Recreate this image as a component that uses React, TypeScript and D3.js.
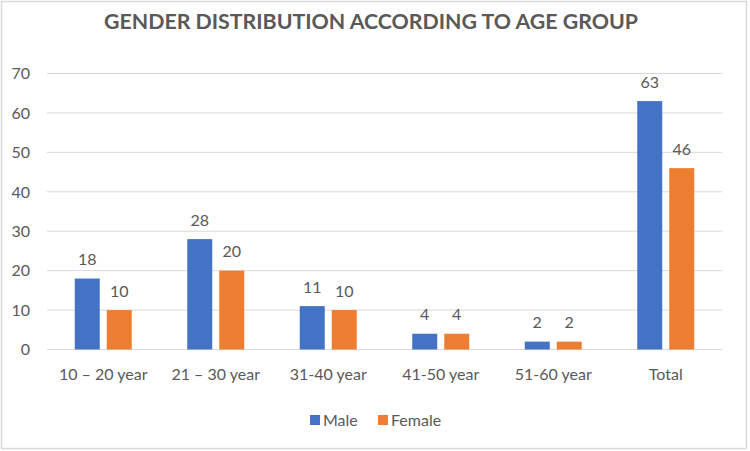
import { useEffect, useRef } from 'react';
import * as d3 from 'd3';

const categories = ['10 – 20 year', '21 – 30 year', '31-40 year', '41-50 year', '51-60 year', 'Total'];
const series = ['Male', 'Female'];
const maleValues = [18, 28, 11, 4, 2, 63];
const femaleValues = [10, 20, 10, 4, 2, 46];
const yTicks = [0, 10, 20, 30, 40, 50, 60, 70];

const WIDTH = 750;
const HEIGHT = 451;
const COLORS: Record<string, string> = { Male: '#4472C4', Female: '#ED7D31' };
const TEXT = '#595959';
const FONT = 'Lato, "Open Sans", sans-serif';

export default function App() {
  const svgRef = useRef<SVGSVGElement>(null);

  useEffect(() => {
    document.body.style.margin = '0';
    const svg = d3.select(svgRef.current);
    svg.selectAll('*').remove();

    const x = d3.scaleBand<string>().domain(categories).range([47, 722]).padding(0);
    const inner = d3
      .scaleBand<string>()
      .domain(series)
      .range([0, x.bandwidth()])
      .paddingInner(0.219)
      .paddingOuter(0.867);
    const y = d3.scaleLinear().domain([0, 70]).range([349.5, 73.5]);

    // Background and frame
    svg.append('rect').attr('width', WIDTH).attr('height', HEIGHT).attr('fill', '#ffffff');
    svg
      .append('rect')
      .attr('x', 1.5)
      .attr('y', 1.5)
      .attr('width', 745)
      .attr('height', 447)
      .attr('fill', 'none')
      .attr('stroke', '#d9d9d9')
      .attr('stroke-width', 1.5);

    // Title
    svg
      .append('text')
      .attr('x', 371)
      .attr('y', 29)
      .attr('text-anchor', 'middle')
      .attr('fill', TEXT)
      .attr('font-family', FONT)
      .attr('font-size', 21)
      .attr('font-weight', 700)
      .attr('textLength', 534)
      .attr('lengthAdjust', 'spacingAndGlyphs')
      .text('GENDER DISTRIBUTION ACCORDING TO AGE GROUP');

    // Gridlines and y tick labels
    yTicks.forEach((t) => {
      svg
        .append('line')
        .attr('x1', 47)
        .attr('x2', 722)
        .attr('y1', y(t))
        .attr('y2', y(t))
        .attr('stroke', '#d9d9d9')
        .attr('stroke-width', 1);
      svg
        .append('text')
        .attr('x', 30)
        .attr('y', y(t))
        .attr('dy', '0.36em')
        .attr('text-anchor', 'end')
        .attr('fill', TEXT)
        .attr('font-family', FONT)
        .attr('font-size', 16)
        .text(t);
    });

    // Bars with value labels
    const rows = categories.map((c, i) => ({ cat: c, Male: maleValues[i], Female: femaleValues[i] }));
    rows.forEach((row) => {
      series.forEach((s) => {
        const v = row[s as 'Male' | 'Female'];
        const bx = (x(row.cat) ?? 0) + (inner(s) ?? 0);
        svg
          .append('rect')
          .attr('x', bx)
          .attr('y', y(v))
          .attr('width', inner.bandwidth())
          .attr('height', y(0) - y(v))
          .attr('fill', COLORS[s]);
        svg
          .append('text')
          .attr('x', bx + inner.bandwidth() / 2)
          .attr('y', y(v) - 19)
          .attr('dy', '0.36em')
          .attr('text-anchor', 'middle')
          .attr('fill', TEXT)
          .attr('font-family', FONT)
          .attr('font-size', 16)
          .text(v);
      });
      svg
        .append('text')
        .attr('x', (x(row.cat) ?? 0) + x.bandwidth() / 2)
        .attr('y', 374)
        .attr('dy', '0.36em')
        .attr('text-anchor', 'middle')
        .attr('fill', TEXT)
        .attr('font-family', FONT)
        .attr('font-size', 16)
        .text(row.cat);
    });

    // Legend
    const legendItems = [
      { name: 'Male', x: 310 },
      { name: 'Female', x: 378 },
    ];
    legendItems.forEach((d) => {
      svg
        .append('rect')
        .attr('x', d.x)
        .attr('y', 415)
        .attr('width', 10)
        .attr('height', 10)
        .attr('fill', COLORS[d.name]);
      svg
        .append('text')
        .attr('x', d.x + 13)
        .attr('y', 420)
        .attr('dy', '0.36em')
        .attr('fill', TEXT)
        .attr('font-family', FONT)
        .attr('font-size', 16)
        .text(d.name);
    });
  }, []);

  return (
    <svg
      ref={svgRef}
      width={WIDTH}
      height={HEIGHT}
      style={{ display: 'block', position: 'absolute', left: 0, top: 0 }}
    />
  );
}
